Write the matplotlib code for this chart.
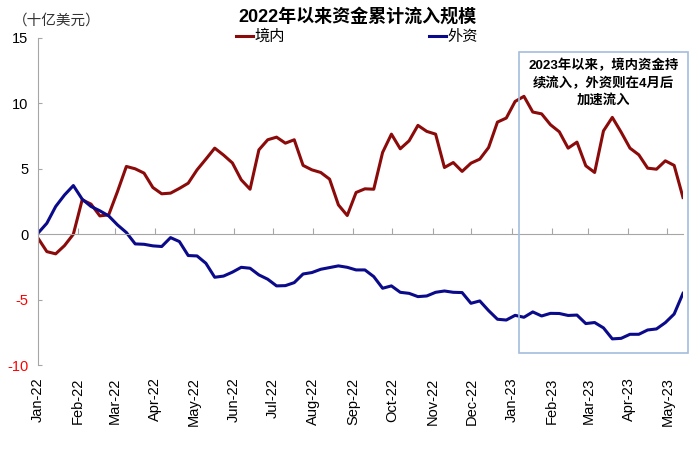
import numpy as np
import pandas as pd
import matplotlib
matplotlib.use("Agg")
import matplotlib.pyplot as plt
import matplotlib.dates as mdates
from matplotlib.patches import Rectangle

plt.rcParams['font.family'] = ['Liberation Sans', 'Noto Sans CJK SC', 'DejaVu Sans']

# cumulative inflows, USD bn, roughly weekly from Jan-22 to mid May-23
dates = pd.date_range("2022-01-01", "2023-05-13", periods=74)

domestic = [-0.3, -1.33, -1.5, -0.87, 0.0, 2.63, 2.3, 1.4, 1.48, 3.27,
            5.18, 5.0, 4.67, 3.57, 3.09, 3.14, 3.5, 3.9, 4.92, 5.74,
            6.58, 6.05, 5.45, 4.16, 3.44, 6.45, 7.22, 7.42, 6.96, 7.22,
            5.26, 4.92, 4.72, 4.21, 2.24, 1.43, 3.19, 3.47, 3.44, 6.25,
            7.65, 6.53, 7.14, 8.32, 7.86, 7.65, 5.1, 5.48, 4.8, 5.43,
            5.74, 6.63, 8.57, 8.88, 10.15, 10.54, 9.34, 9.2, 8.37, 7.83,
            6.58, 7.04, 5.23, 4.72, 7.9, 8.93, 7.8, 6.58, 6.07, 5.05,
            4.97, 5.61, 5.26, 2.81]

foreign = [0.08, 0.84, 2.12, 3.0, 3.72, 2.68, 2.12, 1.79, 1.4, 0.71,
           0.13, -0.74, -0.77, -0.89, -0.94, -0.26, -0.56, -1.63, -1.66, -2.22,
           -3.29, -3.2, -2.9, -2.53, -2.6, -3.11, -3.44, -3.95, -3.93, -3.7,
           -3.04, -2.93, -2.68, -2.55, -2.42, -2.53, -2.73, -2.73, -3.24, -4.13,
           -3.95, -4.44, -4.52, -4.77, -4.72, -4.44, -4.34, -4.44, -4.46, -5.28,
           -5.1, -5.84, -6.5, -6.56, -6.2, -6.35, -5.94, -6.25, -6.05, -6.06,
           -6.21, -6.18, -6.83, -6.75, -7.16, -8.0, -7.96, -7.65, -7.65, -7.32,
           -7.24, -6.76, -6.1, -4.52]

yticks = [-10, -5, 0, 5, 10, 15]
note = "2023年以来，境内资金持\n续流入，外资则在4月后\n加速流入"

fig = plt.figure(figsize=(7, 4.49), dpi=100)
ax = fig.add_axes([0.0543, 0.187, 0.9214, 0.7284])

ax.plot(dates, domestic, color="#8B0A0A", lw=2.2, label="境内")
ax.plot(dates, foreign, color="#0A0A8A", lw=2.2, label="外资")

ax.set_xlim(dates[0], dates[-1])
ax.set_ylim(-10, 15)
ax.set_yticks(yticks)
ax.set_yticklabels([str(v) for v in yticks], fontsize=10.5)
for lbl, v in zip(ax.get_yticklabels(), yticks):
    lbl.set_color("#FF0000" if v < 0 else "black")

for s in ["top", "right"]:
    ax.spines[s].set_visible(False)
ax.spines["left"].set_color("#A6A6A6")
ax.spines["bottom"].set_position(("data", 0))
ax.spines["bottom"].set_color("#A6A6A6")
ax.tick_params(axis="y", direction="in", length=3, color="#A6A6A6", pad=7)
ax.xaxis.set_major_locator(mdates.MonthLocator())
ax.tick_params(axis="x", direction="in", length=4, color="#A6A6A6", labelbottom=False)

# month labels along the bottom edge
sec = ax.secondary_xaxis(0)
sec.xaxis.set_major_locator(mdates.MonthLocator())
sec.xaxis.set_major_formatter(mdates.DateFormatter("%b-%y"))
sec.spines["bottom"].set_visible(False)
sec.tick_params(length=0, pad=9, labelsize=10.5)
for lbl in sec.get_xticklabels():
    lbl.set_rotation(90)

fig.text(0.51, 0.962, "2022年以来资金累计流入规模", ha="center", va="center",
         fontsize=13, fontweight="bold")
fig.text(0.018, 0.955, "（十亿美元）", ha="left", va="center", fontsize=10.5, color="#333333")

fig.legend(loc="center", bbox_to_anchor=(0.51, 0.918), ncol=2, frameon=False,
           fontsize=11, handlelength=1.1, handletextpad=0.1, columnspacing=9.4,
           borderaxespad=0)

box = Rectangle((0.7417, 0.2135), 0.2414, 0.6703, transform=fig.transFigure,
                fill=False, edgecolor="#A3BEDD", lw=1.2)
fig.patches.append(box)
fig.text(0.862, 0.816, note, ha="center", va="center", fontsize=9.6,
         fontweight="bold", linespacing=1.4)

fig.savefig("out.png", dpi=100)
